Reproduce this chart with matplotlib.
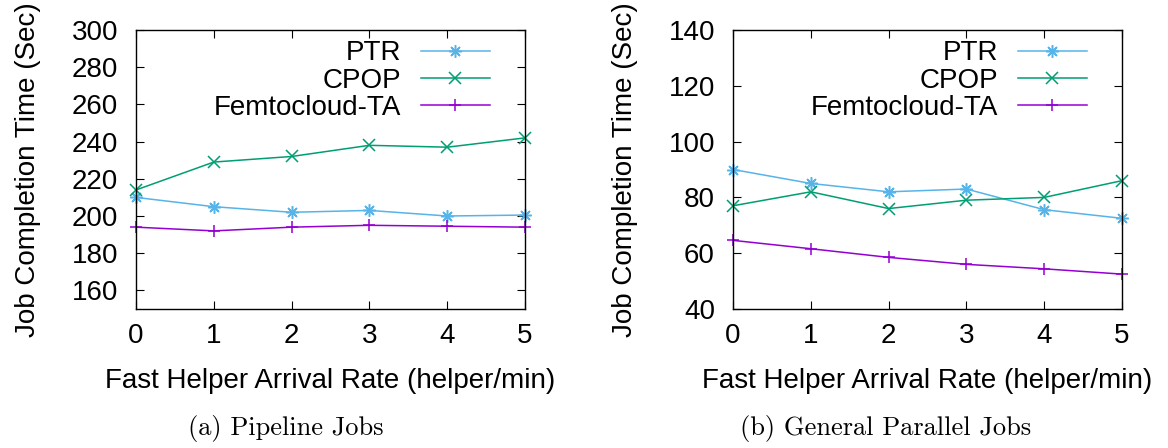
import matplotlib
matplotlib.use("Agg")
import matplotlib.pyplot as plt

plt.rcParams.update({
    "font.family": ["Liberation Sans", "DejaVu Sans"],
    "font.size": 20,
    "axes.linewidth": 1.0,
    "xtick.direction": "in",
    "ytick.direction": "in",
    "xtick.top": True,
    "ytick.right": True,
    "xtick.major.size": 6,
    "ytick.major.size": 6,
    "xtick.major.pad": 10,
    "ytick.major.pad": 13,
})

# --- data ---
rate = [0, 1, 2, 3, 4, 5]
series_names = ["PTR", "CPOP", "Femtocloud-TA"]

pipe_ptr = [210, 205, 202, 203, 200, 200.5]
pipe_cpop = [214, 229, 232, 238, 237, 242]
pipe_femto = [194, 192, 194, 195, 194.5, 194]

par_ptr = [90, 85, 82, 83, 75.6, 72.5]
par_cpop = [77, 82, 76, 79, 80, 86]
par_femto = [64.6, 61.6, 58.5, 56, 54.4, 52.5]

pipe_yticks = [160, 180, 200, 220, 240, 260, 280, 300]
par_yticks = [40, 60, 80, 100, 120, 140]

colors = ["#56B4E9", "#009E73", "#9400D3"]
markers = [(8, 2, 0), "x", "+"]

fig = plt.figure(figsize=(11.68, 4.48), dpi=100)
ax1 = fig.add_axes([136 / 1168, 1 - 309 / 448, 389 / 1168, 279 / 448])
ax2 = fig.add_axes([733 / 1168, 1 - 309 / 448, 389 / 1168, 279 / 448])

panels = [
    (ax1, [pipe_ptr, pipe_cpop, pipe_femto], (150, 300), pipe_yticks),
    (ax2, [par_ptr, par_cpop, par_femto], (40, 140), par_yticks),
]

for ax, ys, ylim, yticks in panels:
    for y, name, c, m in zip(ys, series_names, colors, markers):
        ax.plot(rate, y, color=c, marker=m, markersize=9, markeredgewidth=1.1,
                linewidth=1.1, label=name, clip_on=False)
    ax.set_xlim(0, 5)
    ax.set_ylim(*ylim)
    ax.set_xticks(rate)
    ax.set_yticks(yticks)
    ax.set_xlabel("Fast Helper Arrival Rate (helper/min)", labelpad=14)
    ax.set_ylabel("Job Completion Time (Sec)", labelpad=22)
    ax.legend(loc="upper right", bbox_to_anchor=(0.91, 0.963), frameon=False,
              markerfirst=False, handlelength=2.5, handletextpad=0.7,
              labelspacing=0.05, borderaxespad=0.0, borderpad=0.0, fontsize=20)

fig.text(286 / 1168, 1 - 428 / 448, "(a) Pipeline Jobs", family="cmr10",
         fontsize=19, ha="center", va="center")
fig.text(886 / 1168, 1 - 428 / 448, "(b) General Parallel Jobs", family="cmr10",
         fontsize=19, ha="center", va="center")

fig.savefig("out.png", dpi=100)
